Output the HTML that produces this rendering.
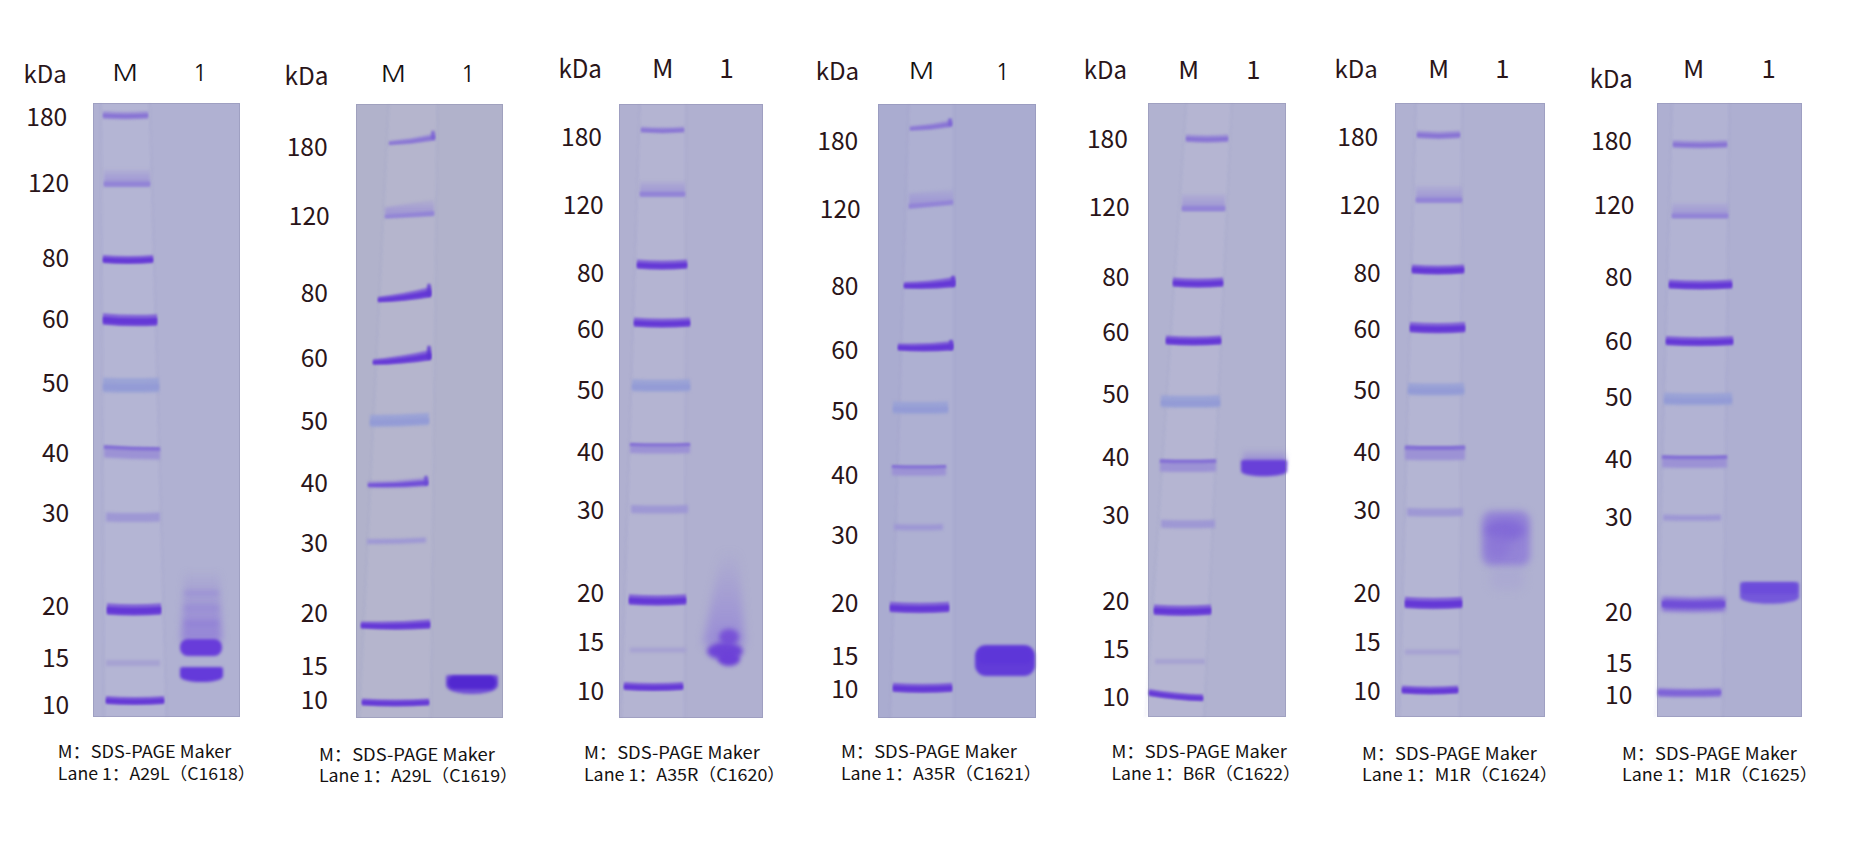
<!DOCTYPE html>
<html><head><meta charset="utf-8"><title>SDS-PAGE results</title>
<style>
html,body{margin:0;padding:0;background:#fff;overflow:hidden;}
svg{display:block;}
.n{font-family:"Noto Sans CJK KR","Noto Sans CJK SC","Liberation Sans",sans-serif;font-weight:400;}
.c{font-family:"Noto Sans CJK SC","Noto Sans CJK KR","Liberation Sans",sans-serif;font-weight:400;}
</style></head><body>
<svg width="1864" height="851" viewBox="0 0 1864 851">
<defs>
<filter id="b0_8" x="-100%" y="-300%" width="300%" height="700%" color-interpolation-filters="sRGB"><feGaussianBlur stdDeviation="0.8"/></filter>
<filter id="b0_9" x="-100%" y="-300%" width="300%" height="700%" color-interpolation-filters="sRGB"><feGaussianBlur stdDeviation="0.9"/></filter>
<filter id="b1_0" x="-100%" y="-300%" width="300%" height="700%" color-interpolation-filters="sRGB"><feGaussianBlur stdDeviation="1.0"/></filter>
<filter id="b1_1" x="-100%" y="-300%" width="300%" height="700%" color-interpolation-filters="sRGB"><feGaussianBlur stdDeviation="1.1"/></filter>
<filter id="b1_2" x="-100%" y="-300%" width="300%" height="700%" color-interpolation-filters="sRGB"><feGaussianBlur stdDeviation="1.2"/></filter>
<filter id="b1_3" x="-100%" y="-300%" width="300%" height="700%" color-interpolation-filters="sRGB"><feGaussianBlur stdDeviation="1.3"/></filter>
<filter id="b1_4" x="-100%" y="-300%" width="300%" height="700%" color-interpolation-filters="sRGB"><feGaussianBlur stdDeviation="1.4"/></filter>
<filter id="b1_5" x="-100%" y="-300%" width="300%" height="700%" color-interpolation-filters="sRGB"><feGaussianBlur stdDeviation="1.5"/></filter>
<filter id="b1_6" x="-100%" y="-300%" width="300%" height="700%" color-interpolation-filters="sRGB"><feGaussianBlur stdDeviation="1.6"/></filter>
<filter id="b1_7" x="-100%" y="-300%" width="300%" height="700%" color-interpolation-filters="sRGB"><feGaussianBlur stdDeviation="1.7"/></filter>
<filter id="b1_8" x="-100%" y="-300%" width="300%" height="700%" color-interpolation-filters="sRGB"><feGaussianBlur stdDeviation="1.8"/></filter>
<filter id="b1_9" x="-100%" y="-300%" width="300%" height="700%" color-interpolation-filters="sRGB"><feGaussianBlur stdDeviation="1.9"/></filter>
<filter id="b2" x="-100%" y="-300%" width="300%" height="700%" color-interpolation-filters="sRGB"><feGaussianBlur stdDeviation="2"/></filter>
<filter id="b2_2" x="-100%" y="-300%" width="300%" height="700%" color-interpolation-filters="sRGB"><feGaussianBlur stdDeviation="2.2"/></filter>
<filter id="b2_4" x="-100%" y="-300%" width="300%" height="700%" color-interpolation-filters="sRGB"><feGaussianBlur stdDeviation="2.4"/></filter>
<filter id="b2_5" x="-100%" y="-300%" width="300%" height="700%" color-interpolation-filters="sRGB"><feGaussianBlur stdDeviation="2.5"/></filter>
<filter id="b3_5" x="-100%" y="-300%" width="300%" height="700%" color-interpolation-filters="sRGB"><feGaussianBlur stdDeviation="3.5"/></filter>
<filter id="b4" x="-100%" y="-300%" width="300%" height="700%" color-interpolation-filters="sRGB"><feGaussianBlur stdDeviation="4"/></filter>
<linearGradient id="g0_0" x1="0" y1="0" x2="0" y2="1"><stop offset="0" stop-color="rgb(153,142,214)" stop-opacity="0.15"/><stop offset="1" stop-color="rgb(153,142,214)" stop-opacity="1.0"/></linearGradient>
<linearGradient id="g1_1" x1="0" y1="0" x2="0" y2="1"><stop offset="0" stop-color="rgb(153,142,214)" stop-opacity="0.15"/><stop offset="1" stop-color="rgb(153,142,214)" stop-opacity="1.0"/></linearGradient>
<linearGradient id="g2_2" x1="0" y1="0" x2="0" y2="1"><stop offset="0" stop-color="rgb(153,142,214)" stop-opacity="0.15"/><stop offset="1" stop-color="rgb(153,142,214)" stop-opacity="1.0"/></linearGradient>
<linearGradient id="g3_3" x1="0" y1="0" x2="0" y2="1"><stop offset="0" stop-color="rgb(153,142,214)" stop-opacity="0.15"/><stop offset="1" stop-color="rgb(153,142,214)" stop-opacity="1.0"/></linearGradient>
<linearGradient id="g4_4" x1="0" y1="0" x2="0" y2="1"><stop offset="0" stop-color="rgb(153,142,214)" stop-opacity="0.15"/><stop offset="1" stop-color="rgb(153,142,214)" stop-opacity="1.0"/></linearGradient>
<linearGradient id="g5_5" x1="0" y1="0" x2="0" y2="1"><stop offset="0" stop-color="rgb(153,142,214)" stop-opacity="0.15"/><stop offset="1" stop-color="rgb(153,142,214)" stop-opacity="1.0"/></linearGradient>
<linearGradient id="g6_6" x1="0" y1="0" x2="0" y2="1"><stop offset="0" stop-color="rgb(153,142,214)" stop-opacity="0.15"/><stop offset="1" stop-color="rgb(153,142,214)" stop-opacity="1.0"/></linearGradient>
<linearGradient id="sg7" x1="0" y1="0" x2="0" y2="1"><stop offset="0" stop-color="rgb(146,128,215)" stop-opacity="0.05"/><stop offset="1" stop-color="rgb(146,128,215)" stop-opacity="0.95"/></linearGradient>
<linearGradient id="sg8" x1="0" y1="0" x2="0" y2="1"><stop offset="0" stop-color="rgb(150,135,215)" stop-opacity="0.0"/><stop offset="1" stop-color="rgb(150,135,215)" stop-opacity="0.9"/></linearGradient>
<linearGradient id="sg9" x1="0" y1="0" x2="0" y2="1"><stop offset="0" stop-color="rgb(140,120,215)" stop-opacity="0.0"/><stop offset="1" stop-color="rgb(140,120,215)" stop-opacity="0.9"/></linearGradient>
</defs>
<rect width="1864" height="851" fill="#fff"/>
<rect x="93" y="103" width="147" height="614" fill="rgb(176,177,210)"/>
<path d="M100.9,103.0 L149.7,103.0 L166.5,717.0 L104.1,717.0 Z" fill="#fff" fill-opacity="0.05" filter="url(#b1_5)"/>
<path d="M100.1,103 L101.7,103 L104.9,717 L103.3,717 Z" fill="rgb(140,140,195)" fill-opacity="0.12" filter="url(#b0_9)"/>
<path d="M148.9,103 L150.5,103 L167.3,717 L165.7,717 Z" fill="rgb(140,140,195)" fill-opacity="0.12" filter="url(#b0_9)"/>
<path d="M103,111.0 Q125.5,112.6 148,111.0 L148,119.0 Q125.5,120.6 103,119.0 Z" fill="rgb(155,142,214)" fill-opacity="0.8" filter="url(#b1_3)"/>
<path d="M103,113.5 Q125.5,115.1 148,113.5 L148,117.5 Q125.5,119.1 103,117.5 Z" fill="rgb(136,116,212)" fill-opacity="1.0" filter="url(#b0_8)"/>
<path d="M104,169.5 L150,169.5 L150,186.5 L104,186.5 Z" fill="url(#g0_0)" filter="url(#b1_6)"/>
<path d="M104,181.8 Q127.0,181.8 150,181.8 L150,186.2 Q127.0,186.2 104,186.2 Z" fill="rgb(146,132,214)" fill-opacity="1.0" filter="url(#b1_0)"/>
<path d="M103,255.0 Q128.0,257.0 153,255.0 L153,263.0 Q128.0,265.0 103,263.0 Z" fill="rgb(125,92,215)" fill-opacity="0.9" filter="url(#b1_3)"/>
<path d="M103,257.4 Q128.0,259.4 153,257.4 L153,262.0 Q128.0,264.0 103,262.0 Z" fill="rgb(100,56,214)" fill-opacity="1.0" filter="url(#b0_8)"/>
<path d="M103,313.2 Q130.0,315.8 157,314.2 L157,325.8 Q130.0,327.2 103,324.8 Z" fill="rgb(125,92,215)" fill-opacity="0.9" filter="url(#b1_3)"/>
<path d="M103,316.8 Q130.0,319.2 157,317.8 L157,324.2 Q130.0,325.8 103,323.2 Z" fill="rgb(100,56,214)" fill-opacity="1.0" filter="url(#b0_8)"/>
<path d="M103,377.8 Q131.0,378.8 159,377.8 L159,392.2 Q131.0,393.2 103,392.2 Z" fill="rgb(154,162,214)" fill-opacity="1.0" filter="url(#b1_8)"/>
<path d="M103,383.8 Q131.0,384.8 159,383.8 L159,389.8 Q131.0,390.8 103,389.8 Z" fill="rgb(146,152,214)" fill-opacity="0.7" filter="url(#b1_0)"/>
<path d="M104,446.1 Q132.0,448.1 160,448.1 L160,459.5 Q132.0,459.5 104,457.5 Z" fill="rgb(156,146,213)" fill-opacity="1.0" filter="url(#b1_5)"/>
<path d="M104,445.2 Q132.0,447.2 160,447.2 L160,450.8 Q132.0,450.8 104,448.8 Z" fill="rgb(132,112,212)" fill-opacity="1.0" filter="url(#b0_8)"/>
<path d="M106,512.5 Q133.0,513.5 160,512.5 L160,521.5 Q133.0,522.5 106,521.5 Z" fill="rgb(158,152,212)" fill-opacity="1.0" filter="url(#b1_6)"/>
<path d="M107,603.2 Q134.0,605.2 161,603.2 L161,614.8 Q134.0,616.8 107,614.8 Z" fill="rgb(125,92,215)" fill-opacity="0.9" filter="url(#b1_3)"/>
<path d="M107,606.8 Q134.0,608.8 161,606.8 L161,613.2 Q134.0,615.2 107,613.2 Z" fill="rgb(100,56,214)" fill-opacity="1.0" filter="url(#b0_8)"/>
<path d="M106,660.0 Q133.0,660.0 160,660.0 L160,666.0 Q133.0,666.0 106,666.0 Z" fill="rgb(166,162,210)" fill-opacity="1.0" filter="url(#b1_8)"/>
<path d="M106,696.0 Q135.0,698.0 164,696.0 L164,704.0 Q135.0,706.0 106,704.0 Z" fill="rgb(125,92,215)" fill-opacity="0.9" filter="url(#b1_3)"/>
<path d="M106,698.4 Q135.0,700.4 164,698.4 L164,703.0 Q135.0,705.0 106,703.0 Z" fill="rgb(100,56,214)" fill-opacity="1.0" filter="url(#b0_8)"/>
<path d="M184,572 L220,572 L222,641 L181,641 Z" fill="url(#sg7)" filter="url(#b3_5)"/>
<rect x="184" y="590" width="35" height="6" rx="3" fill="rgb(140,122,215)" fill-opacity="0.3" filter="url(#b2)"/>
<rect x="184" y="605" width="35" height="6" rx="3" fill="rgb(140,122,215)" fill-opacity="0.3" filter="url(#b2)"/>
<rect x="184" y="620" width="35" height="7" rx="3" fill="rgb(138,118,215)" fill-opacity="0.35" filter="url(#b2)"/>
<rect x="180" y="639" width="42" height="17" rx="8" fill="rgb(104,60,218)" fill-opacity="1" filter="url(#b1_8)"/>
<path d="M180,669 Q180,667 183,667 L220,667 Q223,667 223,669 L223,676 C223,684 180,684 180,676 Z" fill="rgb(100,58,218)" fill-opacity="1" filter="url(#b1_6)"/>
<rect x="93.5" y="103.5" width="146" height="613" fill="none" stroke="rgb(130,130,165)" stroke-opacity="0.35" stroke-width="1"/>
<rect x="356" y="104" width="147" height="614" fill="rgb(177,178,203)"/>
<path d="M388.7,104.0 L437.4,104.0 L430.8,718.0 L359.2,718.0 Z" fill="#fff" fill-opacity="0.05" filter="url(#b1_5)"/>
<path d="M387.9,104 L389.5,104 L360.0,718 L358.4,718 Z" fill="rgb(140,140,195)" fill-opacity="0.12" filter="url(#b0_9)"/>
<path d="M436.6,104 L438.2,104 L431.6,718 L430.0,718 Z" fill="rgb(140,140,195)" fill-opacity="0.12" filter="url(#b0_9)"/>
<path d="M389,140.8 Q412.0,138.6 435,133.2 L435,140.8 Q412.0,144.6 389,145.2 Z" fill="rgb(155,142,214)" fill-opacity="0.8" filter="url(#b1_3)"/>
<path d="M389,142.2 Q412.0,140.5 435,135.6 L435,139.4 Q412.0,143.5 389,144.4 Z" fill="rgb(136,116,212)" fill-opacity="1.0" filter="url(#b0_8)"/>
<rect x="431" y="130.6" width="4" height="8.8" rx="2" fill="rgb(120,95,212)" fill-opacity="0.75" filter="url(#b1_2)"/>
<path d="M385,207.3 L434,199.5 L434,215.8 L385,218.2 Z" fill="url(#g1_1)" filter="url(#b1_6)"/>
<path d="M385,215.2 Q409.5,213.2 434,211.2 L434,215.6 Q409.5,216.8 385,218.0 Z" fill="rgb(146,132,214)" fill-opacity="1.0" filter="url(#b1_0)"/>
<path d="M378,296.7 Q404.5,293.7 431,286.8 L431,297.2 Q404.5,301.8 378,302.3 Z" fill="rgb(125,92,215)" fill-opacity="0.9" filter="url(#b1_3)"/>
<path d="M378,298.4 Q404.5,296.2 431,290.0 L431,295.9 Q404.5,300.7 378,301.6 Z" fill="rgb(100,56,214)" fill-opacity="1.0" filter="url(#b0_8)"/>
<rect x="427" y="283.4" width="4" height="13.1" rx="2" fill="rgb(95,55,210)" fill-opacity="0.75" filter="url(#b1_2)"/>
<path d="M373,359.2 Q402.0,356.5 431,349.8 L431,360.2 Q402.0,364.5 373,364.8 Z" fill="rgb(125,92,215)" fill-opacity="0.9" filter="url(#b1_3)"/>
<path d="M373,360.9 Q402.0,358.9 431,353.0 L431,358.9 Q402.0,363.5 373,364.1 Z" fill="rgb(100,56,214)" fill-opacity="1.0" filter="url(#b0_8)"/>
<rect x="427" y="345.4" width="4" height="14.1" rx="2" fill="rgb(90,50,210)" fill-opacity="0.75" filter="url(#b1_2)"/>
<path d="M370,415.0 Q399.5,415.0 429,413.0 L429,425.0 Q399.5,427.0 370,427.0 Z" fill="rgb(154,162,214)" fill-opacity="1.0" filter="url(#b1_8)"/>
<path d="M370,420.0 Q399.5,420.0 429,418.0 L429,423.0 Q399.5,425.0 370,425.0 Z" fill="rgb(146,152,214)" fill-opacity="0.7" filter="url(#b1_0)"/>
<path d="M368,481.8 Q398.0,481.4 428,477.7 L428,486.3 Q398.0,488.6 368,487.6 Z" fill="rgb(145,125,215)" fill-opacity="0.85" filter="url(#b1_4)"/>
<path d="M368,483.7 Q398.0,483.8 428,480.6 L428,484.9 Q398.0,487.4 368,486.6 Z" fill="rgb(112,78,215)" fill-opacity="1.0" filter="url(#b0_8)"/>
<rect x="424" y="475.4" width="4" height="10.2" rx="2" fill="rgb(105,75,212)" fill-opacity="0.75" filter="url(#b1_2)"/>
<path d="M367,539.1 Q396.5,539.3 426,537.5 L426,542.5 Q396.5,544.3 367,544.1 Z" fill="rgb(158,152,212)" fill-opacity="1.0" filter="url(#b1_6)"/>
<path d="M361,621.4 Q395.5,622.3 430,619.2 L430,628.8 Q395.5,630.7 361,628.6 Z" fill="rgb(125,92,215)" fill-opacity="0.9" filter="url(#b1_3)"/>
<path d="M361,623.6 Q395.5,624.8 430,622.1 L430,627.6 Q395.5,629.6 361,627.7 Z" fill="rgb(100,56,214)" fill-opacity="1.0" filter="url(#b0_8)"/>
<path d="M362,698.5 Q395.5,700.5 429,698.5 L429,705.5 Q395.5,707.5 362,705.5 Z" fill="rgb(125,92,215)" fill-opacity="0.9" filter="url(#b1_3)"/>
<path d="M362,700.6 Q395.5,702.6 429,700.6 L429,704.6 Q395.5,706.6 362,704.6 Z" fill="rgb(100,56,214)" fill-opacity="1.0" filter="url(#b0_8)"/>
<path d="M446,677 Q446,675 449,675 L495,675 Q498,675 498,677 L498,685 C498,697 446,697 446,685 Z" fill="rgb(112,78,214)" fill-opacity="1" filter="url(#b1_6)"/>
<rect x="448" y="676" width="48" height="13" rx="6" fill="rgb(82,40,208)" fill-opacity="1" filter="url(#b1_5)"/>
<rect x="356.5" y="104.5" width="146" height="613" fill="none" stroke="rgb(130,130,165)" stroke-opacity="0.35" stroke-width="1"/>
<rect x="619" y="104" width="144" height="614" fill="rgb(176,176,208)"/>
<path d="M639.8,104.0 L686.0,104.0 L684.9,718.0 L621.0,718.0 Z" fill="#fff" fill-opacity="0.05" filter="url(#b1_5)"/>
<path d="M639.0,104 L640.6,104 L621.8,718 L620.2,718 Z" fill="rgb(140,140,195)" fill-opacity="0.12" filter="url(#b0_9)"/>
<path d="M685.2,104 L686.8,104 L685.7,718 L684.1,718 Z" fill="rgb(140,140,195)" fill-opacity="0.12" filter="url(#b0_9)"/>
<path d="M641,126.4 Q662.5,128.0 684,126.4 L684,132.8 Q662.5,134.4 641,132.8 Z" fill="rgb(155,142,214)" fill-opacity="0.8" filter="url(#b1_3)"/>
<path d="M641,128.4 Q662.5,130.0 684,128.4 L684,131.6 Q662.5,133.2 641,131.6 Z" fill="rgb(136,116,212)" fill-opacity="1.0" filter="url(#b0_8)"/>
<path d="M640,181.1 L685,181.1 L685,196.4 L640,196.4 Z" fill="url(#g2_2)" filter="url(#b1_6)"/>
<path d="M640,192.1 Q662.5,192.1 685,192.1 L685,196.2 Q662.5,196.2 640,196.2 Z" fill="rgb(146,132,214)" fill-opacity="1.0" filter="url(#b1_0)"/>
<path d="M637,259.6 Q662.0,261.6 687,259.6 L687,268.8 Q662.0,270.8 637,268.8 Z" fill="rgb(125,92,215)" fill-opacity="0.9" filter="url(#b1_3)"/>
<path d="M637,262.4 Q662.0,264.4 687,262.4 L687,267.6 Q662.0,269.6 637,267.6 Z" fill="rgb(100,56,214)" fill-opacity="1.0" filter="url(#b0_8)"/>
<path d="M634,317.6 Q662.0,319.6 690,317.6 L690,326.8 Q662.0,328.8 634,326.8 Z" fill="rgb(125,92,215)" fill-opacity="0.9" filter="url(#b1_3)"/>
<path d="M634,320.4 Q662.0,322.4 690,320.4 L690,325.6 Q662.0,327.6 634,325.6 Z" fill="rgb(100,56,214)" fill-opacity="1.0" filter="url(#b0_8)"/>
<path d="M632,379.2 Q661.0,380.2 690,379.2 L690,391.2 Q661.0,392.2 632,391.2 Z" fill="rgb(154,162,214)" fill-opacity="1.0" filter="url(#b1_8)"/>
<path d="M632,384.2 Q661.0,385.2 690,384.2 L690,389.2 Q661.0,390.2 632,389.2 Z" fill="rgb(146,152,214)" fill-opacity="0.7" filter="url(#b1_0)"/>
<path d="M630,443.6 Q660.0,444.6 690,443.6 L690,453.1 Q660.0,454.1 630,453.1 Z" fill="rgb(156,146,213)" fill-opacity="1.0" filter="url(#b1_5)"/>
<path d="M630,442.9 Q660.0,443.9 690,442.9 L690,445.9 Q660.0,446.9 630,445.9 Z" fill="rgb(132,112,212)" fill-opacity="1.0" filter="url(#b0_8)"/>
<path d="M631,505.0 Q659.5,506.0 688,505.0 L688,513.0 Q659.5,514.0 631,513.0 Z" fill="rgb(158,152,212)" fill-opacity="1.0" filter="url(#b1_6)"/>
<path d="M629,594.3 Q657.5,596.3 686,594.3 L686,604.7 Q657.5,606.7 629,604.7 Z" fill="rgb(125,92,215)" fill-opacity="0.9" filter="url(#b1_3)"/>
<path d="M629,597.5 Q657.5,599.5 686,597.5 L686,603.3 Q657.5,605.3 629,603.3 Z" fill="rgb(100,56,214)" fill-opacity="1.0" filter="url(#b0_8)"/>
<path d="M630,647.5 Q658.0,647.5 686,647.5 L686,652.5 Q658.0,652.5 630,652.5 Z" fill="rgb(166,162,210)" fill-opacity="1.0" filter="url(#b1_8)"/>
<path d="M624,682.0 Q653.5,684.0 683,682.0 L683,690.0 Q653.5,692.0 624,690.0 Z" fill="rgb(125,92,215)" fill-opacity="0.9" filter="url(#b1_3)"/>
<path d="M624,684.4 Q653.5,686.4 683,684.4 L683,689.0 Q653.5,691.0 624,689.0 Z" fill="rgb(100,56,214)" fill-opacity="1.0" filter="url(#b0_8)"/>
<path d="M721,550 L738,550 L745,645 L703,645 Z" fill="url(#sg8)" filter="url(#b4)"/>
<ellipse cx="729" cy="637" rx="10" ry="8" fill="rgb(120,82,215)" fill-opacity="1" filter="url(#b2_4)"/>
<ellipse cx="725" cy="651" rx="18" ry="9" fill="rgb(110,68,215)" fill-opacity="1" filter="url(#b2_4)"/>
<ellipse cx="729" cy="659" rx="11" ry="7" fill="rgb(108,64,215)" fill-opacity="1" filter="url(#b2_2)"/>
<rect x="619.5" y="104.5" width="143" height="613" fill="none" stroke="rgb(130,130,165)" stroke-opacity="0.35" stroke-width="1"/>
<rect x="878" y="104" width="158" height="614" fill="rgb(170,172,208)"/>
<path d="M908.7,104.0 L954.0,104.0 L954.0,718.0 L890.1,718.0 Z" fill="#fff" fill-opacity="0.05" filter="url(#b1_5)"/>
<path d="M907.9,104 L909.5,104 L890.9,718 L889.3,718 Z" fill="rgb(140,140,195)" fill-opacity="0.12" filter="url(#b0_9)"/>
<path d="M953.2,104 L954.8,104 L954.8,718 L953.2,718 Z" fill="rgb(140,140,195)" fill-opacity="0.12" filter="url(#b0_9)"/>
<path d="M910,125.8 Q931.0,124.3 952,119.7 L952,127.3 Q931.0,130.8 910,131.0 Z" fill="rgb(155,142,214)" fill-opacity="0.8" filter="url(#b1_3)"/>
<path d="M910,127.4 Q931.0,126.3 952,122.1 L952,125.9 Q931.0,129.5 910,130.0 Z" fill="rgb(136,116,212)" fill-opacity="1.0" filter="url(#b0_8)"/>
<rect x="948" y="118.1" width="4" height="7.8" rx="2" fill="rgb(120,95,212)" fill-opacity="0.75" filter="url(#b1_2)"/>
<path d="M909,193.2 L953,189.2 L953,204.5 L909,208.5 Z" fill="url(#g3_3)" filter="url(#b1_6)"/>
<path d="M909,204.2 Q931.0,202.2 953,200.2 L953,204.3 Q931.0,206.3 909,208.3 Z" fill="rgb(146,132,214)" fill-opacity="1.0" filter="url(#b1_0)"/>
<path d="M904,282.1 Q929.5,281.4 955,276.8 L955,287.2 Q929.5,289.9 904,288.5 Z" fill="rgb(125,92,215)" fill-opacity="0.9" filter="url(#b1_3)"/>
<path d="M904,284.0 Q929.5,284.0 955,280.0 L955,285.9 Q929.5,288.8 904,287.7 Z" fill="rgb(100,56,214)" fill-opacity="1.0" filter="url(#b0_8)"/>
<rect x="951" y="275.4" width="4" height="11.1" rx="2" fill="rgb(100,60,212)" fill-opacity="0.75" filter="url(#b1_2)"/>
<path d="M898,343.4 Q925.5,344.1 953,340.9 L953,350.5 Q925.5,352.6 898,350.6 Z" fill="rgb(125,92,215)" fill-opacity="0.9" filter="url(#b1_3)"/>
<path d="M898,345.6 Q925.5,346.7 953,343.8 L953,349.3 Q925.5,351.5 898,349.7 Z" fill="rgb(100,56,214)" fill-opacity="1.0" filter="url(#b0_8)"/>
<rect x="949" y="339.5" width="4" height="10.4" rx="2" fill="rgb(100,60,212)" fill-opacity="0.75" filter="url(#b1_2)"/>
<path d="M893,401.4 Q920.5,402.4 948,401.4 L948,413.4 Q920.5,414.4 893,413.4 Z" fill="rgb(154,162,214)" fill-opacity="1.0" filter="url(#b1_8)"/>
<path d="M893,406.4 Q920.5,407.4 948,406.4 L948,411.4 Q920.5,412.4 893,411.4 Z" fill="rgb(146,152,214)" fill-opacity="0.7" filter="url(#b1_0)"/>
<path d="M892,465.8 Q919.0,466.8 946,465.8 L946,475.2 Q919.0,476.2 892,475.2 Z" fill="rgb(156,146,213)" fill-opacity="1.0" filter="url(#b1_5)"/>
<path d="M892,465.0 Q919.0,466.0 946,465.0 L946,468.0 Q919.0,469.0 892,468.0 Z" fill="rgb(132,112,212)" fill-opacity="1.0" filter="url(#b0_8)"/>
<path d="M894,524.0 Q918.5,525.0 943,524.0 L943,530.0 Q918.5,531.0 894,530.0 Z" fill="rgb(158,152,212)" fill-opacity="1.0" filter="url(#b1_6)"/>
<path d="M890,601.8 Q919.5,603.8 949,601.8 L949,612.2 Q919.5,614.2 890,612.2 Z" fill="rgb(125,92,215)" fill-opacity="0.9" filter="url(#b1_3)"/>
<path d="M890,605.0 Q919.5,607.0 949,605.0 L949,610.8 Q919.5,612.8 890,610.8 Z" fill="rgb(100,56,214)" fill-opacity="1.0" filter="url(#b0_8)"/>
<path d="M893,682.7 Q922.5,684.7 952,682.7 L952,691.9 Q922.5,693.9 893,691.9 Z" fill="rgb(125,92,215)" fill-opacity="0.9" filter="url(#b1_3)"/>
<path d="M893,685.5 Q922.5,687.5 952,685.5 L952,690.7 Q922.5,692.7 893,690.7 Z" fill="rgb(100,56,214)" fill-opacity="1.0" filter="url(#b0_8)"/>
<rect x="975" y="645" width="60" height="31" rx="11" fill="rgb(98,60,216)" fill-opacity="1" filter="url(#b1_7)"/>
<rect x="978" y="648" width="54" height="16" rx="6" fill="rgb(92,52,216)" fill-opacity="0.8" filter="url(#b1_5)"/>
<rect x="878.5" y="104.5" width="157" height="613" fill="none" stroke="rgb(130,130,165)" stroke-opacity="0.35" stroke-width="1"/>
<rect x="1148" y="103" width="138" height="614" fill="rgb(177,178,208)"/>
<path d="M1186.3,103.0 L1231.6,103.0 L1204.0,717.0 L1145.5,717.0 Z" fill="#fff" fill-opacity="0.05" filter="url(#b1_5)"/>
<path d="M1185.5,103 L1187.1,103 L1146.3,717 L1144.7,717 Z" fill="rgb(140,140,195)" fill-opacity="0.12" filter="url(#b0_9)"/>
<path d="M1230.8,103 L1232.4,103 L1204.8,717 L1203.2,717 Z" fill="rgb(140,140,195)" fill-opacity="0.12" filter="url(#b0_9)"/>
<path d="M1186,134.3 Q1207.0,135.9 1228,134.3 L1228,142.3 Q1207.0,143.9 1186,142.3 Z" fill="rgb(155,142,214)" fill-opacity="0.8" filter="url(#b1_3)"/>
<path d="M1186,136.8 Q1207.0,138.4 1228,136.8 L1228,140.8 Q1207.0,142.4 1186,140.8 Z" fill="rgb(136,116,212)" fill-opacity="1.0" filter="url(#b0_8)"/>
<path d="M1182,194.0 L1225,194.0 L1225,211.0 L1182,211.0 Z" fill="url(#g4_4)" filter="url(#b1_6)"/>
<path d="M1182,206.2 Q1203.5,206.2 1225,206.2 L1225,210.8 Q1203.5,210.8 1182,210.8 Z" fill="rgb(146,132,214)" fill-opacity="1.0" filter="url(#b1_0)"/>
<path d="M1173,277.6 Q1198.0,279.6 1223,277.6 L1223,286.8 Q1198.0,288.8 1173,286.8 Z" fill="rgb(125,92,215)" fill-opacity="0.9" filter="url(#b1_3)"/>
<path d="M1173,280.4 Q1198.0,282.4 1223,280.4 L1223,285.6 Q1198.0,287.6 1173,285.6 Z" fill="rgb(100,56,214)" fill-opacity="1.0" filter="url(#b0_8)"/>
<path d="M1166,335.4 Q1193.5,337.4 1221,335.4 L1221,344.6 Q1193.5,346.6 1166,344.6 Z" fill="rgb(125,92,215)" fill-opacity="0.9" filter="url(#b1_3)"/>
<path d="M1166,338.2 Q1193.5,340.2 1221,338.2 L1221,343.4 Q1193.5,345.4 1166,343.4 Z" fill="rgb(100,56,214)" fill-opacity="1.0" filter="url(#b0_8)"/>
<path d="M1161,395.2 Q1190.5,396.2 1220,395.2 L1220,407.2 Q1190.5,408.2 1161,407.2 Z" fill="rgb(154,162,214)" fill-opacity="1.0" filter="url(#b1_8)"/>
<path d="M1161,400.2 Q1190.5,401.2 1220,400.2 L1220,405.2 Q1190.5,406.2 1161,405.2 Z" fill="rgb(146,152,214)" fill-opacity="0.7" filter="url(#b1_0)"/>
<path d="M1160,460.1 Q1188.0,461.1 1216,460.1 L1216,471.5 Q1188.0,472.5 1160,471.5 Z" fill="rgb(156,146,213)" fill-opacity="1.0" filter="url(#b1_5)"/>
<path d="M1160,459.2 Q1188.0,460.2 1216,459.2 L1216,462.8 Q1188.0,463.8 1160,462.8 Z" fill="rgb(132,112,212)" fill-opacity="1.0" filter="url(#b0_8)"/>
<path d="M1161,519.8 Q1188.0,520.8 1215,519.8 L1215,527.8 Q1188.0,528.8 1161,527.8 Z" fill="rgb(158,152,212)" fill-opacity="1.0" filter="url(#b1_6)"/>
<path d="M1154,604.6 Q1182.5,606.6 1211,604.6 L1211,615.0 Q1182.5,617.0 1154,615.0 Z" fill="rgb(125,92,215)" fill-opacity="0.9" filter="url(#b1_3)"/>
<path d="M1154,607.8 Q1182.5,609.8 1211,607.8 L1211,613.6 Q1182.5,615.6 1154,613.6 Z" fill="rgb(100,56,214)" fill-opacity="1.0" filter="url(#b0_8)"/>
<path d="M1155,659.0 Q1180.0,659.0 1205,659.0 L1205,664.0 Q1180.0,664.0 1155,664.0 Z" fill="rgb(166,162,210)" fill-opacity="1.0" filter="url(#b1_8)"/>
<path d="M1149,689.0 Q1176.0,693.6 1203,694.2 L1203,701.2 Q1176.0,700.6 1149,696.0 Z" fill="rgb(125,92,215)" fill-opacity="0.9" filter="url(#b1_3)"/>
<path d="M1149,691.1 Q1176.0,695.8 1203,696.4 L1203,700.3 Q1176.0,699.7 1149,695.1 Z" fill="rgb(100,56,214)" fill-opacity="1.0" filter="url(#b0_8)"/>
<path d="M1243,449 L1286,449 L1286,465 L1243,465 Z" fill="url(#sg9)" filter="url(#b2_5)"/>
<path d="M1241,462 Q1241,460 1244,460 L1284,460 Q1287,460 1287,462 L1287,471 C1287,478 1241,478 1241,471 Z" fill="rgb(104,64,216)" fill-opacity="1" filter="url(#b1_4)"/>
<rect x="1148.5" y="103.5" width="137" height="613" fill="none" stroke="rgb(130,130,165)" stroke-opacity="0.35" stroke-width="1"/>
<rect x="1395" y="103" width="150" height="614" fill="rgb(176,177,209)"/>
<path d="M1415.9,103.0 L1462.1,103.0 L1459.9,717.0 L1399.3,717.0 Z" fill="#fff" fill-opacity="0.05" filter="url(#b1_5)"/>
<path d="M1415.1,103 L1416.7,103 L1400.1,717 L1398.5,717 Z" fill="rgb(140,140,195)" fill-opacity="0.12" filter="url(#b0_9)"/>
<path d="M1461.3,103 L1462.9,103 L1460.7,717 L1459.1,717 Z" fill="rgb(140,140,195)" fill-opacity="0.12" filter="url(#b0_9)"/>
<path d="M1417,130.6 Q1438.5,132.2 1460,130.6 L1460,138.6 Q1438.5,140.2 1417,138.6 Z" fill="rgb(155,142,214)" fill-opacity="0.8" filter="url(#b1_3)"/>
<path d="M1417,133.1 Q1438.5,134.7 1460,133.1 L1460,137.1 Q1438.5,138.7 1417,137.1 Z" fill="rgb(136,116,212)" fill-opacity="1.0" filter="url(#b0_8)"/>
<path d="M1416,185.5 L1462,185.5 L1462,202.5 L1416,202.5 Z" fill="url(#g5_5)" filter="url(#b1_6)"/>
<path d="M1416,197.8 Q1439.0,197.8 1462,197.8 L1462,202.2 Q1439.0,202.2 1416,202.2 Z" fill="rgb(146,132,214)" fill-opacity="1.0" filter="url(#b1_0)"/>
<path d="M1412,264.4 Q1438.0,266.4 1464,264.4 L1464,273.6 Q1438.0,275.6 1412,273.6 Z" fill="rgb(125,92,215)" fill-opacity="0.9" filter="url(#b1_3)"/>
<path d="M1412,267.2 Q1438.0,269.2 1464,267.2 L1464,272.4 Q1438.0,274.4 1412,272.4 Z" fill="rgb(100,56,214)" fill-opacity="1.0" filter="url(#b0_8)"/>
<path d="M1410,322.0 Q1437.5,324.0 1465,322.0 L1465,332.4 Q1437.5,334.4 1410,332.4 Z" fill="rgb(125,92,215)" fill-opacity="0.9" filter="url(#b1_3)"/>
<path d="M1410,325.2 Q1437.5,327.2 1465,325.2 L1465,331.0 Q1437.5,333.0 1410,331.0 Z" fill="rgb(100,56,214)" fill-opacity="1.0" filter="url(#b0_8)"/>
<path d="M1408,382.9 Q1436.0,383.9 1464,382.9 L1464,394.9 Q1436.0,395.9 1408,394.9 Z" fill="rgb(154,162,214)" fill-opacity="1.0" filter="url(#b1_8)"/>
<path d="M1408,387.9 Q1436.0,388.9 1464,387.9 L1464,392.9 Q1436.0,393.9 1408,392.9 Z" fill="rgb(146,152,214)" fill-opacity="0.7" filter="url(#b1_0)"/>
<path d="M1405,446.5 Q1435.0,447.5 1465,446.5 L1465,459.8 Q1435.0,460.8 1405,459.8 Z" fill="rgb(156,146,213)" fill-opacity="1.0" filter="url(#b1_5)"/>
<path d="M1405,445.4 Q1435.0,446.4 1465,445.4 L1465,449.6 Q1435.0,450.6 1405,449.6 Z" fill="rgb(132,112,212)" fill-opacity="1.0" filter="url(#b0_8)"/>
<path d="M1407,507.9 Q1435.0,508.9 1463,507.9 L1463,515.9 Q1435.0,516.9 1407,515.9 Z" fill="rgb(158,152,212)" fill-opacity="1.0" filter="url(#b1_6)"/>
<path d="M1405,596.8 Q1433.5,598.8 1462,596.8 L1462,608.2 Q1433.5,610.2 1405,608.2 Z" fill="rgb(125,92,215)" fill-opacity="0.9" filter="url(#b1_3)"/>
<path d="M1405,600.2 Q1433.5,602.2 1462,600.2 L1462,606.8 Q1433.5,608.8 1405,606.8 Z" fill="rgb(100,56,214)" fill-opacity="1.0" filter="url(#b0_8)"/>
<path d="M1405,649.5 Q1432.5,649.5 1460,649.5 L1460,654.5 Q1432.5,654.5 1405,654.5 Z" fill="rgb(166,162,210)" fill-opacity="1.0" filter="url(#b1_8)"/>
<path d="M1402,685.5 Q1430.0,687.5 1458,685.5 L1458,693.5 Q1430.0,695.5 1402,693.5 Z" fill="rgb(125,92,215)" fill-opacity="0.9" filter="url(#b1_3)"/>
<path d="M1402,687.9 Q1430.0,689.9 1458,687.9 L1458,692.5 Q1430.0,694.5 1402,692.5 Z" fill="rgb(100,56,214)" fill-opacity="1.0" filter="url(#b0_8)"/>
<rect x="1482" y="511" width="48" height="55" rx="10" fill="rgb(148,132,215)" fill-opacity="1" filter="url(#b3_5)"/>
<ellipse cx="1505" cy="530" rx="20" ry="11" fill="rgb(128,102,215)" fill-opacity="0.85" filter="url(#b4)"/>
<ellipse cx="1498" cy="547" rx="12" ry="13" fill="rgb(136,114,215)" fill-opacity="0.6" filter="url(#b4)"/>
<rect x="1490" y="568" width="34" height="22" rx="8" fill="rgb(168,164,212)" fill-opacity="0.5" filter="url(#b4)"/>
<rect x="1395.5" y="103.5" width="149" height="613" fill="none" stroke="rgb(130,130,165)" stroke-opacity="0.35" stroke-width="1"/>
<rect x="1657" y="103" width="145" height="614" fill="rgb(174,175,209)"/>
<path d="M1672.1,103.0 L1729.4,103.0 L1722.7,717.0 L1655.3,717.0 Z" fill="#fff" fill-opacity="0.05" filter="url(#b1_5)"/>
<path d="M1671.3,103 L1672.9,103 L1656.1,717 L1654.5,717 Z" fill="rgb(140,140,195)" fill-opacity="0.12" filter="url(#b0_9)"/>
<path d="M1728.6,103 L1730.2,103 L1723.5,717 L1721.9,717 Z" fill="rgb(140,140,195)" fill-opacity="0.12" filter="url(#b0_9)"/>
<path d="M1673,140.0 Q1700.0,141.6 1727,140.0 L1727,148.0 Q1700.0,149.6 1673,148.0 Z" fill="rgb(155,142,214)" fill-opacity="0.8" filter="url(#b1_3)"/>
<path d="M1673,142.5 Q1700.0,144.1 1727,142.5 L1727,146.5 Q1700.0,148.1 1673,146.5 Z" fill="rgb(136,116,212)" fill-opacity="1.0" filter="url(#b0_8)"/>
<path d="M1672,202.8 L1728,202.8 L1728,218.1 L1672,218.1 Z" fill="url(#g6_6)" filter="url(#b1_6)"/>
<path d="M1672,213.8 Q1700.0,213.8 1728,213.8 L1728,217.9 Q1700.0,217.9 1672,217.9 Z" fill="rgb(146,132,214)" fill-opacity="1.0" filter="url(#b1_0)"/>
<path d="M1669,279.4 Q1700.5,281.4 1732,279.4 L1732,288.6 Q1700.5,290.6 1669,288.6 Z" fill="rgb(125,92,215)" fill-opacity="0.9" filter="url(#b1_3)"/>
<path d="M1669,282.2 Q1700.5,284.2 1732,282.2 L1732,287.4 Q1700.5,289.4 1669,287.4 Z" fill="rgb(100,56,214)" fill-opacity="1.0" filter="url(#b0_8)"/>
<path d="M1666,336.1 Q1699.5,338.1 1733,336.1 L1733,345.3 Q1699.5,347.3 1666,345.3 Z" fill="rgb(125,92,215)" fill-opacity="0.9" filter="url(#b1_3)"/>
<path d="M1666,338.9 Q1699.5,340.9 1733,338.9 L1733,344.1 Q1699.5,346.1 1666,344.1 Z" fill="rgb(100,56,214)" fill-opacity="1.0" filter="url(#b0_8)"/>
<path d="M1664,392.8 Q1698.0,393.8 1732,392.8 L1732,404.8 Q1698.0,405.8 1664,404.8 Z" fill="rgb(154,162,214)" fill-opacity="1.0" filter="url(#b1_8)"/>
<path d="M1664,397.8 Q1698.0,398.8 1732,397.8 L1732,402.8 Q1698.0,403.8 1664,402.8 Z" fill="rgb(146,152,214)" fill-opacity="0.7" filter="url(#b1_0)"/>
<path d="M1662,456.1 Q1694.5,457.1 1727,456.1 L1727,467.5 Q1694.5,468.5 1662,467.5 Z" fill="rgb(156,146,213)" fill-opacity="1.0" filter="url(#b1_5)"/>
<path d="M1662,455.2 Q1694.5,456.2 1727,455.2 L1727,458.8 Q1694.5,459.8 1662,458.8 Z" fill="rgb(132,112,212)" fill-opacity="1.0" filter="url(#b0_8)"/>
<path d="M1663,514.6 Q1692.0,515.6 1721,514.6 L1721,520.6 Q1692.0,521.6 1663,520.6 Z" fill="rgb(158,152,212)" fill-opacity="1.0" filter="url(#b1_6)"/>
<path d="M1662,597.1 Q1693.5,598.7 1725,597.1 L1725,610.9 Q1693.5,612.5 1662,610.9 Z" fill="rgb(128,100,215)" fill-opacity="1.0" filter="url(#b1_9)"/>
<path d="M1662,601.0 Q1693.5,602.6 1725,601.0 L1725,607.0 Q1693.5,608.6 1662,607.0 Z" fill="rgb(112,78,215)" fill-opacity="1.0" filter="url(#b1_3)"/>
<path d="M1658,688.3 Q1689.5,689.5 1721,688.3 L1721,696.7 Q1689.5,697.9 1658,696.7 Z" fill="rgb(138,115,215)" fill-opacity="1.0" filter="url(#b1_6)"/>
<path d="M1658,690.8 Q1689.5,692.0 1721,690.8 L1721,694.2 Q1689.5,695.5 1658,694.2 Z" fill="rgb(125,98,215)" fill-opacity="1.0" filter="url(#b1_1)"/>
<path d="M1740,584 Q1740,582 1743,582 L1796,582 Q1799,582 1799,584 L1799,597 C1799,606 1740,606 1740,597 Z" fill="rgb(116,88,218)" fill-opacity="1" filter="url(#b1_8)"/>
<rect x="1742" y="583" width="55" height="11" rx="4" fill="rgb(106,74,218)" fill-opacity="0.8" filter="url(#b1_6)"/>
<rect x="1657.5" y="103.5" width="144" height="613" fill="none" stroke="rgb(130,130,165)" stroke-opacity="0.35" stroke-width="1"/>
<text x="23.6" y="83.3" font-size="23.63" font-family="Noto Sans CJK KR, Liberation Sans, sans-serif" font-weight="400" fill="#2a1519" textLength="43.3" lengthAdjust="spacingAndGlyphs">kDa</text>
<text x="112.4" y="81.0" font-size="23.73" font-family="NanumGothic, Liberation Sans, sans-serif" font-weight="400" fill="#141111" textLength="25.5" lengthAdjust="spacingAndGlyphs">M</text>
<text x="192.7" y="81.0" font-size="24.00" font-family="NanumGothic, Liberation Sans, sans-serif" font-weight="400" fill="#141111">1</text>
<text x="284.5" y="84.9" font-size="24.75" font-family="Noto Sans CJK KR, Liberation Sans, sans-serif" font-weight="400" fill="#2a1519" textLength="44.0" lengthAdjust="spacingAndGlyphs">kDa</text>
<text x="381.1" y="81.8" font-size="23.73" font-family="NanumGothic, Liberation Sans, sans-serif" font-weight="400" fill="#141111" textLength="24.9" lengthAdjust="spacingAndGlyphs">M</text>
<text x="460.8" y="81.8" font-size="23.73" font-family="NanumGothic, Liberation Sans, sans-serif" font-weight="400" fill="#141111">1</text>
<text x="558.4" y="78.0" font-size="25.00" font-family="Noto Sans CJK KR, Liberation Sans, sans-serif" font-weight="400" fill="#2a1519" textLength="43.6" lengthAdjust="spacingAndGlyphs">kDa</text>
<text x="651.9" y="78.2" font-size="25.48" font-family="Noto Sans CJK KR, Liberation Sans, sans-serif" font-weight="400" fill="#2a1519" textLength="21.6" lengthAdjust="spacingAndGlyphs">M</text>
<text x="719.2" y="78.2" font-size="26.20" font-family="Noto Sans CJK KR, Liberation Sans, sans-serif" font-weight="400" fill="#2a1519">1</text>
<text x="815.7" y="79.7" font-size="24.13" font-family="Noto Sans CJK KR, Liberation Sans, sans-serif" font-weight="400" fill="#2a1519" textLength="43.5" lengthAdjust="spacingAndGlyphs">kDa</text>
<text x="909.0" y="79.2" font-size="23.60" font-family="NanumGothic, Liberation Sans, sans-serif" font-weight="400" fill="#141111" textLength="25.2" lengthAdjust="spacingAndGlyphs">M</text>
<text x="995.5" y="79.9" font-size="23.33" font-family="NanumGothic, Liberation Sans, sans-serif" font-weight="400" fill="#141111">1</text>
<text x="1083.8" y="79.0" font-size="24.50" font-family="Noto Sans CJK KR, Liberation Sans, sans-serif" font-weight="400" fill="#2a1519" textLength="43.3" lengthAdjust="spacingAndGlyphs">kDa</text>
<text x="1178.3" y="79.2" font-size="24.93" font-family="Noto Sans CJK KR, Liberation Sans, sans-serif" font-weight="400" fill="#2a1519" textLength="20.9" lengthAdjust="spacingAndGlyphs">M</text>
<text x="1246.2" y="79.2" font-size="25.63" font-family="Noto Sans CJK KR, Liberation Sans, sans-serif" font-weight="400" fill="#2a1519">1</text>
<text x="1334.5" y="78.0" font-size="24.38" font-family="Noto Sans CJK KR, Liberation Sans, sans-serif" font-weight="400" fill="#2a1519" textLength="43.3" lengthAdjust="spacingAndGlyphs">kDa</text>
<text x="1428.3" y="78.2" font-size="24.93" font-family="Noto Sans CJK KR, Liberation Sans, sans-serif" font-weight="400" fill="#2a1519" textLength="20.9" lengthAdjust="spacingAndGlyphs">M</text>
<text x="1495.3" y="78.2" font-size="25.63" font-family="Noto Sans CJK KR, Liberation Sans, sans-serif" font-weight="400" fill="#2a1519">1</text>
<text x="1589.7" y="87.8" font-size="24.50" font-family="Noto Sans CJK KR, Liberation Sans, sans-serif" font-weight="400" fill="#2a1519" textLength="43.1" lengthAdjust="spacingAndGlyphs">kDa</text>
<text x="1683.0" y="78.2" font-size="24.93" font-family="Noto Sans CJK KR, Liberation Sans, sans-serif" font-weight="400" fill="#2a1519" textLength="21.3" lengthAdjust="spacingAndGlyphs">M</text>
<text x="1761.4" y="78.2" font-size="25.63" font-family="Noto Sans CJK KR, Liberation Sans, sans-serif" font-weight="400" fill="#2a1519">1</text>
<text class="n" x="26.3" y="126.2" font-size="24.6" fill="#2a1519">180</text>
<text class="n" x="28.1" y="192.0" font-size="24.6" fill="#2a1519">120</text>
<text class="n" x="41.9" y="267.4" font-size="24.6" fill="#2a1519">80</text>
<text class="n" x="41.9" y="328.3" font-size="24.6" fill="#2a1519">60</text>
<text class="n" x="41.9" y="392.4" font-size="24.6" fill="#2a1519">50</text>
<text class="n" x="41.9" y="462.0" font-size="24.6" fill="#2a1519">40</text>
<text class="n" x="41.9" y="522.1" font-size="24.6" fill="#2a1519">30</text>
<text class="n" x="41.9" y="615.2" font-size="24.6" fill="#2a1519">20</text>
<text class="n" x="41.9" y="667.2" font-size="24.6" fill="#2a1519">15</text>
<text class="n" x="41.9" y="714.4" font-size="24.6" fill="#2a1519">10</text>
<text class="n" x="286.7" y="155.7" font-size="24.6" fill="#2a1519">180</text>
<text class="n" x="288.8" y="224.6" font-size="24.6" fill="#2a1519">120</text>
<text class="n" x="300.7" y="301.9" font-size="24.6" fill="#2a1519">80</text>
<text class="n" x="300.7" y="366.8" font-size="24.6" fill="#2a1519">60</text>
<text class="n" x="300.7" y="429.5" font-size="24.6" fill="#2a1519">50</text>
<text class="n" x="300.7" y="492.3" font-size="24.6" fill="#2a1519">40</text>
<text class="n" x="300.7" y="552.3" font-size="24.6" fill="#2a1519">30</text>
<text class="n" x="300.7" y="621.9" font-size="24.6" fill="#2a1519">20</text>
<text class="n" x="300.7" y="674.6" font-size="24.6" fill="#2a1519">15</text>
<text class="n" x="300.7" y="708.9" font-size="24.6" fill="#2a1519">10</text>
<text class="n" x="561.0" y="145.9" font-size="24.6" fill="#2a1519">180</text>
<text class="n" x="562.8" y="213.6" font-size="24.6" fill="#2a1519">120</text>
<text class="n" x="576.9" y="282.4" font-size="24.6" fill="#2a1519">80</text>
<text class="n" x="576.9" y="337.9" font-size="24.6" fill="#2a1519">60</text>
<text class="n" x="576.9" y="398.9" font-size="24.6" fill="#2a1519">50</text>
<text class="n" x="576.9" y="461.3" font-size="24.6" fill="#2a1519">40</text>
<text class="n" x="576.9" y="518.8" font-size="24.6" fill="#2a1519">30</text>
<text class="n" x="576.9" y="602.4" font-size="24.6" fill="#2a1519">20</text>
<text class="n" x="576.9" y="650.5" font-size="24.6" fill="#2a1519">15</text>
<text class="n" x="576.9" y="699.5" font-size="24.6" fill="#2a1519">10</text>
<text class="n" x="817.3" y="150.1" font-size="24.6" fill="#2a1519">180</text>
<text class="n" x="819.8" y="217.9" font-size="24.6" fill="#2a1519">120</text>
<text class="n" x="831.2" y="294.8" font-size="24.6" fill="#2a1519">80</text>
<text class="n" x="831.2" y="358.9" font-size="24.6" fill="#2a1519">60</text>
<text class="n" x="831.2" y="419.9" font-size="24.6" fill="#2a1519">50</text>
<text class="n" x="831.2" y="483.5" font-size="24.6" fill="#2a1519">40</text>
<text class="n" x="831.2" y="543.5" font-size="24.6" fill="#2a1519">30</text>
<text class="n" x="831.2" y="612.3" font-size="24.6" fill="#2a1519">20</text>
<text class="n" x="831.2" y="664.6" font-size="24.6" fill="#2a1519">15</text>
<text class="n" x="831.2" y="697.8" font-size="24.6" fill="#2a1519">10</text>
<text class="n" x="1086.9" y="148.3" font-size="24.6" fill="#2a1519">180</text>
<text class="n" x="1088.7" y="216.4" font-size="24.6" fill="#2a1519">120</text>
<text class="n" x="1102.2" y="285.9" font-size="24.6" fill="#2a1519">80</text>
<text class="n" x="1102.2" y="340.7" font-size="24.6" fill="#2a1519">60</text>
<text class="n" x="1102.2" y="402.5" font-size="24.6" fill="#2a1519">50</text>
<text class="n" x="1102.2" y="465.9" font-size="24.6" fill="#2a1519">40</text>
<text class="n" x="1102.2" y="523.7" font-size="24.6" fill="#2a1519">30</text>
<text class="n" x="1102.2" y="609.5" font-size="24.6" fill="#2a1519">20</text>
<text class="n" x="1102.2" y="657.9" font-size="24.6" fill="#2a1519">15</text>
<text class="n" x="1102.2" y="705.5" font-size="24.6" fill="#2a1519">10</text>
<text class="n" x="1337.3" y="145.9" font-size="24.6" fill="#2a1519">180</text>
<text class="n" x="1339.0" y="213.6" font-size="24.6" fill="#2a1519">120</text>
<text class="n" x="1353.4" y="282.4" font-size="24.6" fill="#2a1519">80</text>
<text class="n" x="1353.4" y="337.9" font-size="24.6" fill="#2a1519">60</text>
<text class="n" x="1353.4" y="398.9" font-size="24.6" fill="#2a1519">50</text>
<text class="n" x="1353.4" y="461.3" font-size="24.6" fill="#2a1519">40</text>
<text class="n" x="1353.4" y="518.8" font-size="24.6" fill="#2a1519">30</text>
<text class="n" x="1353.4" y="602.4" font-size="24.6" fill="#2a1519">20</text>
<text class="n" x="1353.4" y="650.5" font-size="24.6" fill="#2a1519">15</text>
<text class="n" x="1353.4" y="699.5" font-size="24.6" fill="#2a1519">10</text>
<text class="n" x="1591.0" y="150.1" font-size="24.6" fill="#2a1519">180</text>
<text class="n" x="1593.5" y="213.6" font-size="24.6" fill="#2a1519">120</text>
<text class="n" x="1605.1" y="285.9" font-size="24.6" fill="#2a1519">80</text>
<text class="n" x="1605.1" y="349.5" font-size="24.6" fill="#2a1519">60</text>
<text class="n" x="1605.1" y="405.9" font-size="24.6" fill="#2a1519">50</text>
<text class="n" x="1605.1" y="468.3" font-size="24.6" fill="#2a1519">40</text>
<text class="n" x="1605.1" y="525.5" font-size="24.6" fill="#2a1519">30</text>
<text class="n" x="1605.1" y="620.8" font-size="24.6" fill="#2a1519">20</text>
<text class="n" x="1605.1" y="672.0" font-size="24.6" fill="#2a1519">15</text>
<text class="n" x="1605.1" y="704.1" font-size="24.6" fill="#2a1519">10</text>
<text x="57.8" y="757.5" font-size="17" font-family="Noto Sans CJK SC, Liberation Sans, sans-serif" font-weight="400" fill="#141111" textLength="173.6" lengthAdjust="spacingAndGlyphs">M：SDS-PAGE Maker</text>
<text x="57.8" y="779.5" font-size="17" font-family="Noto Sans CJK SC, Liberation Sans, sans-serif" font-weight="400" fill="#141111" textLength="197.7" lengthAdjust="spacingAndGlyphs">Lane 1：A29L（C1618）</text>
<text x="318.9" y="760.7" font-size="17" font-family="Noto Sans CJK SC, Liberation Sans, sans-serif" font-weight="400" fill="#141111" textLength="175.9" lengthAdjust="spacingAndGlyphs">M：SDS-PAGE Maker</text>
<text x="318.9" y="782.3" font-size="17" font-family="Noto Sans CJK SC, Liberation Sans, sans-serif" font-weight="400" fill="#141111" textLength="199.0" lengthAdjust="spacingAndGlyphs">Lane 1：A29L（C1619）</text>
<text x="583.9" y="758.9" font-size="17" font-family="Noto Sans CJK SC, Liberation Sans, sans-serif" font-weight="400" fill="#141111" textLength="175.9" lengthAdjust="spacingAndGlyphs">M：SDS-PAGE Maker</text>
<text x="583.9" y="780.6" font-size="17" font-family="Noto Sans CJK SC, Liberation Sans, sans-serif" font-weight="400" fill="#141111" textLength="201.3" lengthAdjust="spacingAndGlyphs">Lane 1：A35R（C1620）</text>
<text x="840.9" y="758.1" font-size="17" font-family="Noto Sans CJK SC, Liberation Sans, sans-serif" font-weight="400" fill="#141111" textLength="175.9" lengthAdjust="spacingAndGlyphs">M：SDS-PAGE Maker</text>
<text x="840.9" y="779.8" font-size="17" font-family="Noto Sans CJK SC, Liberation Sans, sans-serif" font-weight="400" fill="#141111" textLength="200.8" lengthAdjust="spacingAndGlyphs">Lane 1：A35R（C1621）</text>
<text x="1111.5" y="758.4" font-size="17" font-family="Noto Sans CJK SC, Liberation Sans, sans-serif" font-weight="400" fill="#141111" textLength="175.3" lengthAdjust="spacingAndGlyphs">M：SDS-PAGE Maker</text>
<text x="1111.5" y="780.0" font-size="17" font-family="Noto Sans CJK SC, Liberation Sans, sans-serif" font-weight="400" fill="#141111" textLength="189.2" lengthAdjust="spacingAndGlyphs">Lane 1：B6R（C1622）</text>
<text x="1362.0" y="759.8" font-size="17" font-family="Noto Sans CJK SC, Liberation Sans, sans-serif" font-weight="400" fill="#141111" textLength="174.8" lengthAdjust="spacingAndGlyphs">M：SDS-PAGE Maker</text>
<text x="1362.0" y="781.4" font-size="17" font-family="Noto Sans CJK SC, Liberation Sans, sans-serif" font-weight="400" fill="#141111" textLength="195.7" lengthAdjust="spacingAndGlyphs">Lane 1：M1R（C1624）</text>
<text x="1622.0" y="759.8" font-size="17" font-family="Noto Sans CJK SC, Liberation Sans, sans-serif" font-weight="400" fill="#141111" textLength="174.8" lengthAdjust="spacingAndGlyphs">M：SDS-PAGE Maker</text>
<text x="1622.0" y="781.4" font-size="17" font-family="Noto Sans CJK SC, Liberation Sans, sans-serif" font-weight="400" fill="#141111" textLength="195.7" lengthAdjust="spacingAndGlyphs">Lane 1：M1R（C1625）</text>
</svg></body></html>
